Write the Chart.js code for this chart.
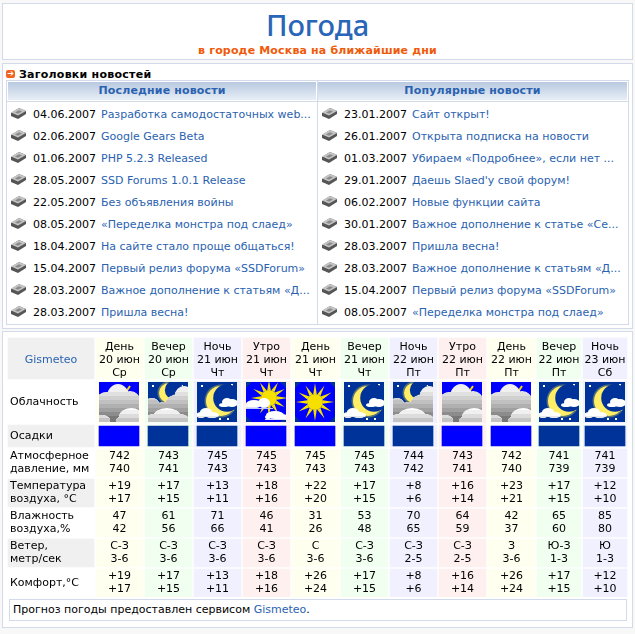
<!DOCTYPE html>
<html lang="ru">
<head>
<meta charset="utf-8">
<title>Погода</title>
<script src="https://cdn.jsdelivr.net/npm/chart.js@4/dist/chart.umd.min.js"></script>
<style>
    html, body { margin: 0; padding: 0; }
    body { width: 635px; height: 634px; background: #f8f8f8; position: relative; overflow: hidden;
           font: 11px "DejaVu Sans", Verdana, sans-serif; color: #000; }
    .box { position: absolute; background: #fff; border: 1px solid #d3dae9; box-sizing: border-box; }
    a { color: #2a62b0; text-decoration: none; }
    #head { left: 2px; top: 3px; width: 631px; height: 57px; text-align: center; }
    #head h1 { position: absolute; left: 0; right: 0; top: 3px; margin: 0; font: 500 29px/36px "Noto Sans", sans-serif; color: #2a66b8; }
    #head h2 { position: absolute; left: 0; right: 0; top: 40px; margin: 0; font: bold 11px/14px "DejaVu Sans", sans-serif; letter-spacing: 0.16px; color: #f05a0a; }
    #news { left: 2px; top: 63px; width: 631px; height: 266px; }
    #news h3 { position: absolute; left: 16px; top: 3px; margin: 0; font: bold 11px/16px "DejaVu Sans", sans-serif; letter-spacing: 0.25px; }
    #mark { position: absolute; left: 3px; top: 6px; width: 9px; height: 8px; background: #f0641e; border-radius: 2px; color: #fff; font: bold 8px/8px "DejaVu Sans", sans-serif; text-align: center; }
    #frame { position: absolute; left: 3px; top: 16px; width: 623px; height: 245px; border: 1px solid #d3dae9; box-sizing: border-box; }
    .col { position: absolute; top: 0; bottom: 0; }
    #latest { left: 0; width: 310px; border-right: 1px solid #d3dae9; }
    #popular { left: 310px; width: 311px; }
    .col h4 { position: absolute; left: 1px; right: 1px; top: 1px; height: 18px; margin: 0; text-align: center;
              font: bold 11px/18px "DejaVu Sans", sans-serif; letter-spacing: 0.15px; color: #2a62b0; background: linear-gradient(#b8c9e0, #e8eef6); }
    .rows { position: absolute; left: 0; right: 0; top: 20px; border-top: 1px solid #d3dae9; padding-top: 1px; }
    .row { position: relative; height: 22px; line-height: 24px; white-space: nowrap; overflow: hidden; }
    .row svg { position: absolute; left: 4px; top: 5px; }
    .row span { position: absolute; left: 26px; }
    .row a { position: absolute; left: 94px; }
    #popular .row svg { left: 5px; }
    #popular .row span { left: 27px; }
    #popular .row a { left: 95px; }
    #weather { left: 2px; top: 331px; width: 631px; height: 297px; }
    #note { position: absolute; left: 6px; top: 267px; width: 618px; height: 22px; border: 1px solid #d3dae9; box-sizing: border-box; line-height: 20px; padding-left: 3px; }
    #tableChart { position: absolute; left: 0; top: 336px; }
</style>
</head>
<body>
<svg width="0" height="0" style="position:absolute">
    <symbol id="disk" viewBox="0 0 15 11">
        <path d="M0 5 L8 0 L15 3 L15 6 L7 11 L0 8 Z" fill="#555"/>
        <path d="M0 4.5 L8 0 L15 3 L7 7.5 Z" fill="#c4c4c4"/>
        <path d="M4 4.5 L8 2.2 L11 3.4 L7 5.7 Z" fill="#8a8a8a"/>
    </symbol>
</svg>

<div class="box" id="head">
    <h1>Погода</h1>
    <h2>в городе Москва на ближайшие дни</h2>
</div>

<div class="box" id="news">
    <div id="mark">➔</div>
    <h3>Заголовки новостей</h3>
    <div id="frame">
        <div class="col" id="latest"><h4>Последние новости</h4><div class="rows"></div></div>
        <div class="col" id="popular"><h4>Популярные новости</h4><div class="rows"></div></div>
    </div>
</div>

<div class="box" id="weather">
    <div id="note">Прогноз погоды предоставлен сервисом <a href="#">Gismeteo</a>.</div>
</div>

<canvas id="tableChart" width="635" height="261"></canvas>

<script>
// новости
const latestDates = ['04.06.2007', '02.06.2007', '01.06.2007', '28.05.2007', '22.05.2007', '08.05.2007', '18.04.2007', '15.04.2007', '28.03.2007', '28.03.2007'];
const latestTitles = ['Разработка самодостаточных web...', 'Google Gears Beta', 'PHP 5.2.3 Released', 'SSD Forums 1.0.1 Release', 'Без объявления войны', '«Переделка монстра под слаед»', 'На сайте стало проще общаться!', 'Первый релиз форума «SSDForum»', 'Важное дополнение к статьям «Д...', 'Пришла весна!'];
const popularDates = ['23.01.2007', '26.01.2007', '01.03.2007', '29.01.2007', '06.02.2007', '30.01.2007', '28.03.2007', '28.03.2007', '15.04.2007', '08.05.2007'];
const popularTitles = ['Сайт открыт!', 'Открыта подписка на новости', 'Убираем «Подробнее», если нет ...', 'Даешь Slaed\'у свой форум!', 'Новые функции сайта', 'Важное дополнение к статье «Се...', 'Пришла весна!', 'Важное дополнение к статьям «Д...', 'Первый релиз форума «SSDForum»', '«Переделка монстра под слаед»'];

// прогноз
const periods = ['День', 'Вечер', 'Ночь', 'Утро', 'День', 'Вечер', 'Ночь', 'Утро', 'День', 'Вечер', 'Ночь'];
const dates = ['20 июн', '20 июн', '21 июн', '21 июн', '21 июн', '21 июн', '22 июн', '22 июн', '22 июн', '22 июн', '23 июн'];
const weekdays = ['Ср', 'Ср', 'Чт', 'Чт', 'Чт', 'Чт', 'Пт', 'Пт', 'Пт', 'Пт', 'Сб'];
const clouds = ['overcast', 'cloudyNight', 'clearNight', 'cloudySun', 'sun', 'clearNight', 'cloudyNight', 'overcast', 'overcast', 'clearNight', 'clearNight'];
const pressureHigh = [742, 743, 745, 745, 745, 745, 744, 743, 742, 741, 741];
const pressureLow = [740, 741, 743, 743, 743, 743, 742, 741, 740, 739, 739];
const tempHigh = ['+19', '+17', '+13', '+18', '+22', '+17', '+8', '+16', '+23', '+17', '+12'];
const tempLow = ['+17', '+15', '+11', '+16', '+20', '+15', '+6', '+14', '+21', '+15', '+10'];
const humidityHigh = [47, 61, 71, 46, 31, 53, 70, 64, 42, 65, 85];
const humidityLow = [42, 56, 66, 41, 26, 48, 65, 59, 37, 60, 80];
const windDirection = ['С-З', 'С-З', 'С-З', 'С-З', 'С', 'С-З', 'С-З', 'С-З', 'З', 'Ю-З', 'Ю'];
const windSpeed = ['3-6', '3-6', '3-6', '3-6', '3-6', '3-6', '2-5', '2-5', '3-6', '1-3', '1-3'];
const comfortHigh = ['+19', '+17', '+13', '+18', '+26', '+17', '+8', '+16', '+26', '+17', '+12'];
const comfortLow = ['+17', '+15', '+11', '+16', '+24', '+15', '+6', '+14', '+24', '+15', '+10'];
const rowLabels = ['', 'Облачность', 'Осадки', ['Атмосферное', 'давление, мм'], ['Температура', 'воздуха, °С'], ['Влажность', 'воздуха,%'], ['Ветер,', 'метр/сек'], 'Комфорт,°С'];

// раскладка таблицы
const columnWidths = [86, 47, 47, 47, 47, 47, 47, 47, 47, 47, 44, 44];
const rowHeights = [41, 42, 22, 28, 28, 28, 28, 28];
const gap = 2;
const iconSize = 40;
const stripHeight = 20;
const partColors = { 'День': '#fffff0', 'Вечер': '#f0fff0', 'Ночь': '#f0f0ff', 'Утро': '#fff0f0' };
const shadedRows = [0, 2, 4, 6];

function edges(sizes) {
    let pos = 0;
    return sizes.map(function(size) {
        const edge = [pos, pos + size];
        pos += size + gap;
        return edge;
    });
}
const colEdges = edges(columnWidths);
const rowEdges = edges(rowHeights);
const colMiddle = colEdges.map(e => (e[0] + e[1]) / 2);
const rowMiddle = rowEdges.map(e => (e[0] + e[1]) / 2);

function fillNews(id, newsDates, titles) {
    const rows = document.querySelector('#' + id + ' .rows');
    titles.forEach(function(title, i) {
        const row = document.createElement('div');
        row.className = 'row';
        row.innerHTML = '<svg width="15" height="11"><use href="#disk"/></svg><span>' + newsDates[i] + '</span><a href="#">' + title + '</a>';
        rows.appendChild(row);
    });
}
fillNews('latest', latestDates, latestTitles);
fillNews('popular', popularDates, popularTitles);

// значки облачности
function starField(ctx, points, color) {
    ctx.fillStyle = color;
    points.forEach(p => ctx.fillRect(p[0], p[1], 2, 2));
}
function puff(ctx, parts, bands) {
    ctx.save();
    ctx.beginPath();
    parts.forEach(function(p) {
        ctx.moveTo(p[0] + p[2], p[1]);
        ctx.ellipse(p[0], p[1], p[2], p[3], 0, 0, Math.PI * 2);
    });
    ctx.clip();
    bands.forEach(function(b) {
        ctx.fillStyle = b[1];
        ctx.fillRect(0, b[0], iconSize, iconSize - b[0]);
    });
    ctx.restore();
}
function crescent(ctx, x, y, r, dx, dy, sky) {
    ctx.fillStyle = 'rgba(190,190,80,0.45)';
    ctx.beginPath(); ctx.arc(x, y, r + 1.5, 0, Math.PI * 2); ctx.fill();
    ctx.fillStyle = '#ffee66';
    ctx.beginPath(); ctx.arc(x, y, r, 0, Math.PI * 2); ctx.fill();
    ctx.fillStyle = sky;
    ctx.beginPath(); ctx.arc(x + dx, y + dy, r * 0.92, 0, Math.PI * 2); ctx.fill();
}
function sunDisc(ctx, x, y, r, rays, len) {
    ctx.fillStyle = '#f5e000';
    for (let i = 0; i < rays; i++) {
        const a = i * Math.PI * 2 / rays;
        ctx.beginPath();
        ctx.moveTo(x + Math.cos(a - 0.22) * r, y + Math.sin(a - 0.22) * r);
        ctx.lineTo(x + Math.cos(a) * (r + len), y + Math.sin(a) * (r + len));
        ctx.lineTo(x + Math.cos(a + 0.22) * r, y + Math.sin(a + 0.22) * r);
        ctx.fill();
    }
    ctx.beginPath(); ctx.arc(x, y, r, 0, Math.PI * 2); ctx.fill();
}
const greyBands = [[0, '#f0f0f0'], [10, '#e0e0e0'], [14, '#d0d0d0'], [18, '#c0c0c0'], [22, '#b0b0b0'], [26, '#a0a0a0'], [30, '#8c8c8c'], [34, '#787878']];
const softBands = [[0, '#ffffff'], [28, '#f0f0f0'], [32, '#dcdcdc'], [36, '#c4c4c4']];
const iconPainters = {
    overcast: function(ctx) {
        ctx.fillStyle = '#0000ff'; ctx.fillRect(0, 0, iconSize, iconSize);
        ctx.strokeStyle = '#f5e000'; ctx.lineWidth = 2;
        ctx.beginPath(); ctx.moveTo(27, 10); ctx.lineTo(31, 4); ctx.stroke();
        puff(ctx, [[8, 21, 12, 11], [19, 15, 11, 13], [31, 19, 10, 10], [20, 32, 24, 13]], greyBands);
        puff(ctx, [[32, 35, 12, 9], [25, 39, 8, 5], [2, 38, 9, 5]], softBands);
    },
    cloudyNight: function(ctx) {
        ctx.fillStyle = '#003399'; ctx.fillRect(0, 0, iconSize, iconSize);
        starField(ctx, [[4, 3], [24, 1], [33, 3]], '#ffffff');
        crescent(ctx, 21, 11, 10, 5, -3, '#003399');
        puff(ctx, [[36, 13, 9, 9], [31, 21, 13, 9], [4, 22, 7, 6], [20, 32, 26, 12]], greyBands);
        puff(ctx, [[19, 35, 14, 9], [6, 38, 9, 6], [31, 38, 10, 6]], softBands);
    },
    clearNight: function(ctx) {
        ctx.fillStyle = '#003399'; ctx.fillRect(0, 0, iconSize, iconSize);
        starField(ctx, [[4, 3], [34, 2], [22, 36], [30, 36]], '#ffffff');
        starField(ctx, [[35, 27], [14, 20], [5, 32]], '#e0c040');
        crescent(ctx, 24, 19, 15, 6, -3, '#003399');
        puff(ctx, [[30, 20, 5, 4], [35, 21, 6, 4], [27, 23, 5, 2]], [[0, '#ffffff']]);
        puff(ctx, [[9, 30, 6, 4], [15, 33, 7, 3], [4, 33, 5, 3]], [[0, '#ffffff'], [34, '#e8e8e8']]);
    },
    cloudySun: function(ctx) {
        ctx.fillStyle = '#003399'; ctx.fillRect(0, 0, iconSize, iconSize);
        ctx.fillStyle = '#0000ff';
        ctx.beginPath(); ctx.moveTo(6, 0); ctx.lineTo(34, 0); ctx.lineTo(40, 6); ctx.lineTo(40, 34); ctx.lineTo(34, 40); ctx.lineTo(6, 40); ctx.lineTo(0, 34); ctx.lineTo(0, 6); ctx.fill();
        sunDisc(ctx, 23, 16, 8, 12, 10);
        puff(ctx, [[8, 22, 8, 4], [18, 21, 6, 5], [3, 24, 5, 3]], [[0, '#ffffff'], [25, '#dde0f0']]);
        ctx.fillStyle = '#c0c8ff'; ctx.fillRect(0, 26, 27, 1);
        puff(ctx, [[29, 33, 9, 4], [36, 35, 6, 3], [22, 35, 3, 2]], [[0, '#ffffff']]);
        ctx.fillStyle = '#e0e0f0'; ctx.fillRect(19, 37, 21, 1);
    },
    sun: function(ctx) {
        ctx.fillStyle = '#003399'; ctx.fillRect(0, 0, iconSize, iconSize);
        ctx.fillStyle = '#0000ff';
        ctx.beginPath(); ctx.moveTo(6, 0); ctx.lineTo(34, 0); ctx.lineTo(40, 6); ctx.lineTo(40, 34); ctx.lineTo(34, 40); ctx.lineTo(6, 40); ctx.lineTo(0, 34); ctx.lineTo(0, 6); ctx.fill();
        sunDisc(ctx, 20, 20, 8, 12, 11);
    }
};
const iconCanvases = clouds.map(function(name) {
    const c = document.createElement('canvas');
    c.width = iconSize;
    c.height = iconSize;
    iconPainters[name](c.getContext('2d'));
    return c;
});

// наборы данных: колонки таблицы как столбцы на своих шкалах
const precipRow = 2;
const cloudRow = 1;
const datasets = [];
datasets.push({
    type: 'scatter',
    order: 0,
    clip: false,
    data: periods.map((p, i) => ({ x: Math.floor(colMiddle[i + 1]), y: rowMiddle[cloudRow] })),
    pointStyle: iconCanvases,
    pointRadius: iconSize / 2,
    pointHoverRadius: iconSize / 2
});
datasets.push({
    type: 'bar',
    order: 1,
    grouped: false,
    clip: false,
    barThickness: iconSize,
    backgroundColor: periods.map(p => (p === 'День' || p === 'Утро') ? '#0000ff' : '#003399'),
    data: periods.map((p, i) => ({
        x: Math.floor(colMiddle[i + 1]),
        y: [rowMiddle[precipRow] - stripHeight / 2, rowMiddle[precipRow] + stripHeight / 2]
    }))
});
datasets.push({
    type: 'bar',
    order: 2,
    grouped: false,
    clip: false,
    barThickness: columnWidths[0],
    backgroundColor: '#f0f0f0',
    data: shadedRows.map(r => ({ x: colMiddle[0], y: rowEdges[r] }))
});
periods.forEach(function(p, i) {
    datasets.push({
        type: 'bar',
        order: 2,
        grouped: false,
        clip: false,
        barThickness: columnWidths[i + 1],
        backgroundColor: partColors[p],
        data: rowEdges.map(e => ({ x: colMiddle[i + 1], y: e }))
    });
});

// значения в ячейках
const cellRows = [
    [3, pressureHigh, pressureLow],
    [4, tempHigh, tempLow],
    [5, humidityHigh, humidityLow],
    [6, windDirection, windSpeed],
    [7, comfortHigh, comfortLow]
];
const cellText = {
    id: 'cellText',
    afterDatasetsDraw: function(chart) {
        const { ctx, scales } = chart;
        ctx.save();
        ctx.font = '11px "DejaVu Sans"';
        ctx.fillStyle = '#000';
        ctx.textAlign = 'center';
        ctx.textBaseline = 'middle';
        cellRows.forEach(function(row) {
            const y = scales.y.getPixelForValue(rowMiddle[row[0]]);
            periods.forEach(function(p, i) {
                const x = scales.x.getPixelForValue(colMiddle[i + 1]);
                ctx.fillText(String(row[1][i]), x, y - 6.5);
                ctx.fillText(String(row[2][i]), x, y + 6.5);
            });
        });
        ctx.restore();
    }
};

function noMargins(scale) {
    scale.paddingLeft = 0;
    scale.paddingRight = 0;
    scale.paddingTop = 0;
    scale.paddingBottom = 0;
}

const headerLabels = [['Gismeteo']].concat(periods.map((p, i) => [p, dates[i], weekdays[i]]));
const tickFont = { family: '"DejaVu Sans"', size: 11, lineHeight: 13 / 11 };

const tableChart = new Chart(document.getElementById('tableChart').getContext('2d'), {
    type: 'bar',
    data: { datasets: datasets },
    plugins: [cellText],
    options: {
        responsive: false,
        animation: false,
        events: [],
        layout: { autoPadding: false, padding: { left: 8, right: 8, top: 0, bottom: 0 } },
        plugins: { legend: { display: false }, tooltip: { enabled: false }, title: { display: false } },
        scales: {
            x: {
                type: 'linear',
                position: 'top',
                offset: false,
                min: 0,
                max: colEdges[colEdges.length - 1][1],
                grid: { display: false, drawTicks: false },
                border: { display: false },
                afterBuildTicks: function(scale) { scale.ticks = colMiddle.map(v => ({ value: v })); },
                afterFit: function(scale) { scale.height = rowEdges[cloudRow][0] + gap; noMargins(scale); },
                ticks: {
                    z: 1,
                    autoSkip: false,
                    maxRotation: 0,
                    minRotation: 0,
                    crossAlign: 'center',
                    padding: 8,
                    font: tickFont,
                    color: ctx => ctx.index === 0 ? '#2a62b0' : '#000',
                    callback: (value, index) => headerLabels[index]
                }
            },
            y: {
                type: 'linear',
                reverse: true,
                offset: false,
                min: rowEdges[cloudRow][0],
                max: rowEdges[rowEdges.length - 1][1],
                grid: { display: false, drawTicks: false },
                border: { display: false },
                afterBuildTicks: function(scale) { scale.ticks = rowMiddle.slice(cloudRow).map(v => ({ value: v })); },
                afterFit: function(scale) { scale.width = 0; noMargins(scale); },
                ticks: {
                    z: 1,
                    autoSkip: false,
                    mirror: true,
                    padding: 2,
                    font: tickFont,
                    color: '#000',
                    callback: (value, index) => rowLabels[index + cloudRow]
                }
            }
        }
    }
});
</script>
</body>
</html>
